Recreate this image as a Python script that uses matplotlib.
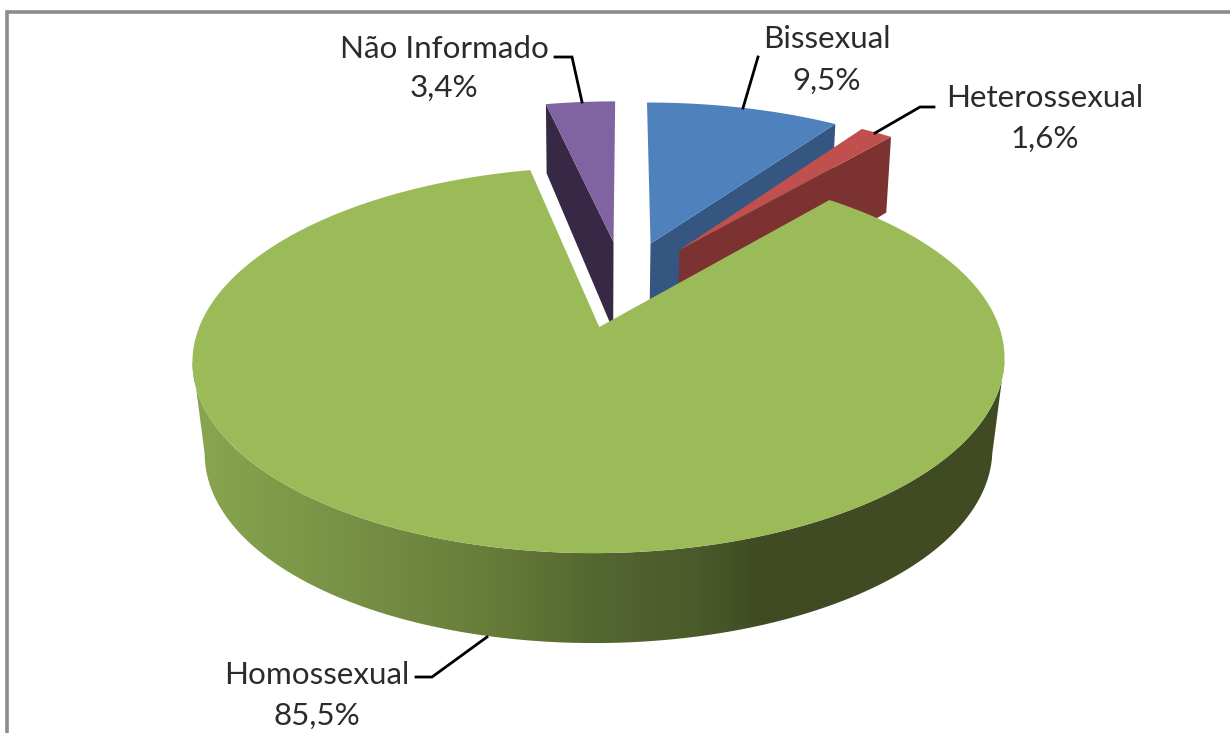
import matplotlib
matplotlib.use('Agg')
import matplotlib.pyplot as plt
import numpy as np
from matplotlib.colors import LinearSegmentedColormap
from matplotlib.patches import Polygon

# dados do grafico
categorias = ['Bissexual', 'Heterossexual', 'Homossexual', 'Não Informado']
valores = [9.5, 1.6, 85.5, 3.4]
rotulos = ['9,5%', '1,6%', '85,5%', '3,4%']

cor_topo = ['#4F81BD', '#C0504D', '#9BBB59', '#8064A2']
cor_lado = ['#345680', '#7B3230', '#5F7536', '#372845']

# perspectiva do plano da pizza (em pixels da imagem)
U0, V0 = 599, 327
RX, RY, K, SKEW = 400, 187.4, 0.171, 4.5
EXPLODE = 0.25
CENTRO = (0.0605, 0.2425)
RAIO = [1.025, 1.025, 1.0, 1.025]


def proj(x, y, base=False):
    w = 1 + K * y
    u = (RX * x + SKEW * y) / w
    v = V0 - RY * y / w
    if base:
        u = u * (0.97 + 0.057 * (w - 0.97))
        d = w - 0.83
        v = v + 90 + 55.9 * d - 246.6 * d * d
    return U0 + u, v


def borda(cx, cy, r, a0, a1, base=False):
    t = np.radians(np.linspace(a0, a1, 300))
    return proj(cx + r * np.sin(t), cy + r * np.cos(t), base)


fig = plt.figure(figsize=(12.3, 7.33), dpi=100)
ax = fig.add_axes([0, 0, 1, 1])
ax.set_xlim(0, 1230)
ax.set_ylim(733, 0)
ax.axis('off')

# moldura
ax.plot([6.5, 6.5, 1230], [733, 11.5, 11.5], color='#8C8C8C', lw=2.6, solid_joinstyle='miter')

bordas = np.cumsum([0] + valores) * 3.6
meios = (bordas[:-1] + bordas[1:]) / 2

# fatias de tras para frente
for i in [3, 0, 1, 2]:
    a0, a1 = bordas[i], bordas[i + 1]
    m = np.radians(meios[i])
    r = RAIO[i]
    cx = CENTRO[0] + EXPLODE * np.sin(m)
    cy = CENTRO[1] + EXPLODE * np.cos(m)
    ut, vt = borda(cx, cy, r, a0, a1)
    ap = proj(cx, cy)
    if i == 2:
        # lateral externa com degrade
        ub, vb = borda(cx, cy, r, 100, 260, True)
        us, vs = borda(cx, cy, r, 100, 260)
        pts = np.column_stack([np.r_[us, ub[::-1]], np.r_[vs, vb[::-1]]])
        grad = LinearSegmentedColormap.from_list('lado', [
            (0.0, '#8AA650'), (0.13, '#7C9848'), (0.25, '#728A42'), (0.38, '#657A38'),
            (0.5, '#546630'), (0.625, '#4A5A2A'), (0.70, '#404B23'), (1.0, '#404B23')])
        img = ax.imshow(np.linspace(0, 1, 512)[None, :], cmap=grad, aspect='auto',
                        extent=[pts[:, 0].min(), pts[:, 0].max(), 733, 0], vmin=0, vmax=1, zorder=1)
        img.set_clip_path(Polygon(pts, transform=ax.transData))
        ax.set_xlim(0, 1230)
        ax.set_ylim(733, 0)
    else:
        # face do corte que fica visivel
        ang = a0 if i == 3 else a1
        s, c = r * np.sin(np.radians(ang)), r * np.cos(np.radians(ang))
        p = [proj(cx, cy), proj(cx + s, cy + c), proj(cx + s, cy + c, True), proj(cx, cy, True)]
        ax.add_patch(Polygon(p, closed=True, fc=cor_lado[i], ec='none', zorder=1))
    topo = np.column_stack([np.r_[ap[0], ut], np.r_[ap[1], vt]])
    ax.add_patch(Polygon(topo, closed=True, fc=cor_topo[i], ec='none', zorder=2))

# linhas de chamada
chamadas = [([758, 743], [57, 108]), ([934, 920, 875], [107, 107, 133]),
            ([416, 432, 487], [677, 677, 637]), ([555, 572, 582], [57, 57, 102])]
for xs, ys in chamadas:
    ax.plot(xs, ys, color='black', lw=2, zorder=3, solid_joinstyle='miter')

# rotulos
pos_txt = [(827, 39, 81), (1045, 98, 139), (317, 675, 716), (444, 49, 88)]
for nome, rot, (x, y1, y2) in zip(categorias, rotulos, pos_txt):
    ax.text(x, y1, nome, ha='center', va='center', fontsize=22.6, family='Lato', color='#2B2B2B')
    ax.text(x, y2, rot, ha='center', va='center', fontsize=22.6, family='Lato', color='#2B2B2B')

fig.savefig('out.png', dpi=100)
